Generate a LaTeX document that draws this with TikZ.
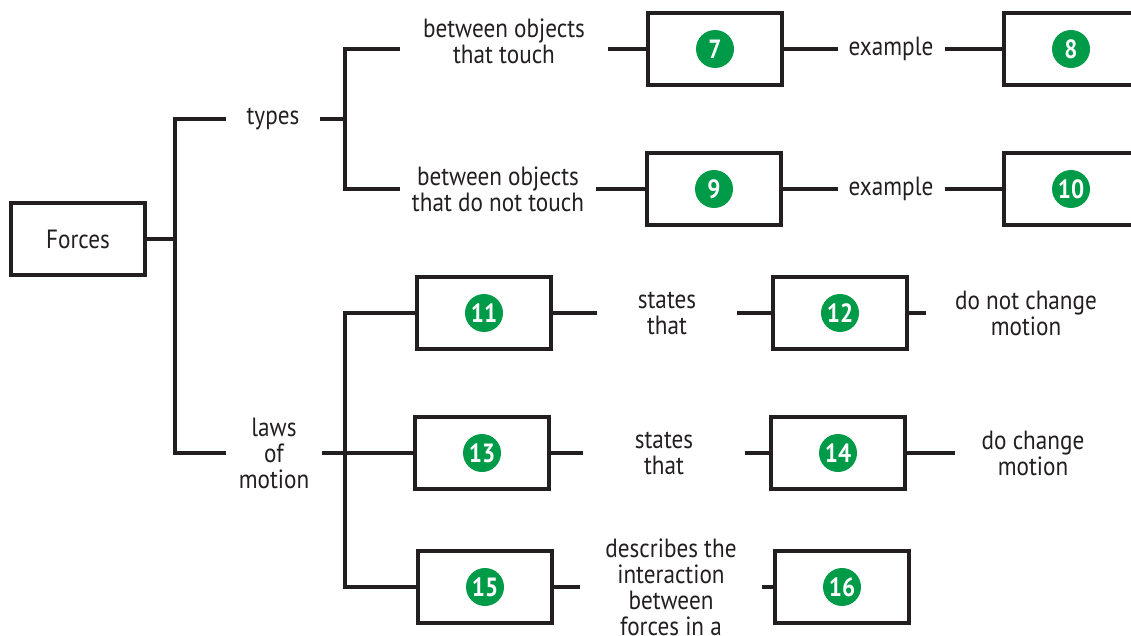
\documentclass[tikz,border=0pt]{standalone}
\usepackage{fontspec}
\setmainfont{PT Sans}[FakeStretch=0.88]
\definecolor{ink}{HTML}{231F20}
\definecolor{badge}{HTML}{009B48}

\begin{document}
\begin{tikzpicture}[x=0.02cm, y=-0.02cm,
  every node/.style={inner sep=0pt, outer sep=0pt},
  box/.style={draw=ink, line width=1.8pt, fill=white, minimum width=2.68cm, minimum height=1.44cm, outer sep=0.9pt},
  numbox/.style={box, label={[badge]center:#1}},
  badge/.style={circle, fill=badge, text=white, minimum size=0.76cm, font=\bfseries\fontsize{15}{15}\selectfont},
  word/.style={align=center, text=ink, font=\fontsize{15}{14.8}\selectfont},
  wire/.style={draw=ink, line width=1.8pt}]
  \useasboundingbox (0,0) rectangle (1131,635);
  \clip (0,0) rectangle (1131,635);

  % root and first level
  \node[box, word] (forces) at (78,239) {Forces};
  \node[word, minimum width=1.88cm] (types) at (273,119) {types};
  \node[word, minimum width=1.92cm] (laws) at (274,453) {laws\\of\\motion};
  \coordinate (j1) at (175,239);
  \coordinate (j2) at (345,119);
  \coordinate (j3) at (345,453);

  % types of forces
  \node[word, minimum width=4.16cm] (touch) at (504,41) {between objects\\that touch};
  \node[word, minimum width=3.94cm] (apart) at (498,189) {between objects\\that do not touch};
  \node[numbox=7] (b7) at (715,49) {};
  \node[numbox=8] (b8) at (1071,49) {};
  \node[numbox=9] (b9) at (714,189) {};
  \node[numbox=10] (b10) at (1071,189) {};
  \node[word, minimum width=2.14cm] (ex1) at (891,49) {example};
  \node[word, minimum width=2.14cm] (ex2) at (891,189) {example};

  % laws of motion
  \node[numbox=11] (b11) at (484,313) {};
  \node[numbox=12] (b12) at (840,313) {};
  \node[numbox=13] (b13) at (482,453) {};
  \node[numbox=14] (b14) at (838,453) {};
  \node[numbox=15] (b15) at (485,587) {};
  \node[numbox=16] (b16) at (842,587) {};
  \node[word, minimum width=2.8cm] (states1) at (667,313) {states\\that};
  \node[word, minimum width=4cm] (nochange) at (1026,313) {do not change\\motion};
  \node[word, minimum width=3.24cm] (states2) at (664,453) {states\\that};
  \node[word, minimum width=3.12cm] (change) at (1033,453) {do change\\motion};
  \node[word, minimum width=3.64cm] (describes) at (671,587) {describes the\\interaction\\between\\forces in a};

  % connectors
  \draw[wire] (forces) -- (j1);
  \draw[wire] (types.west) -| (j1) |- (laws.west);
  \draw[wire] (types.east) -- (j2);
  \draw[wire] (touch.west |- b7) -| (j2) |- (apart.west);
  \draw[wire] (touch.east |- b7) -- (b7);
  \draw[wire] (b7) -- (ex1) -- (b8);
  \draw[wire] (apart) -- (b9) -- (ex2) -- (b10);
  \draw[wire] (laws) -- (b13);
  \draw[wire] (b11.west) -| (j3) |- (b15.west);
  \draw[wire] (b11) -- (states1) -- (b12) -- (nochange);
  \draw[wire] (b13) -- (states2) -- (b14) -- (change);
  \draw[wire] (b15) -- (describes) -- (b16);
\end{tikzpicture}
\end{document}
